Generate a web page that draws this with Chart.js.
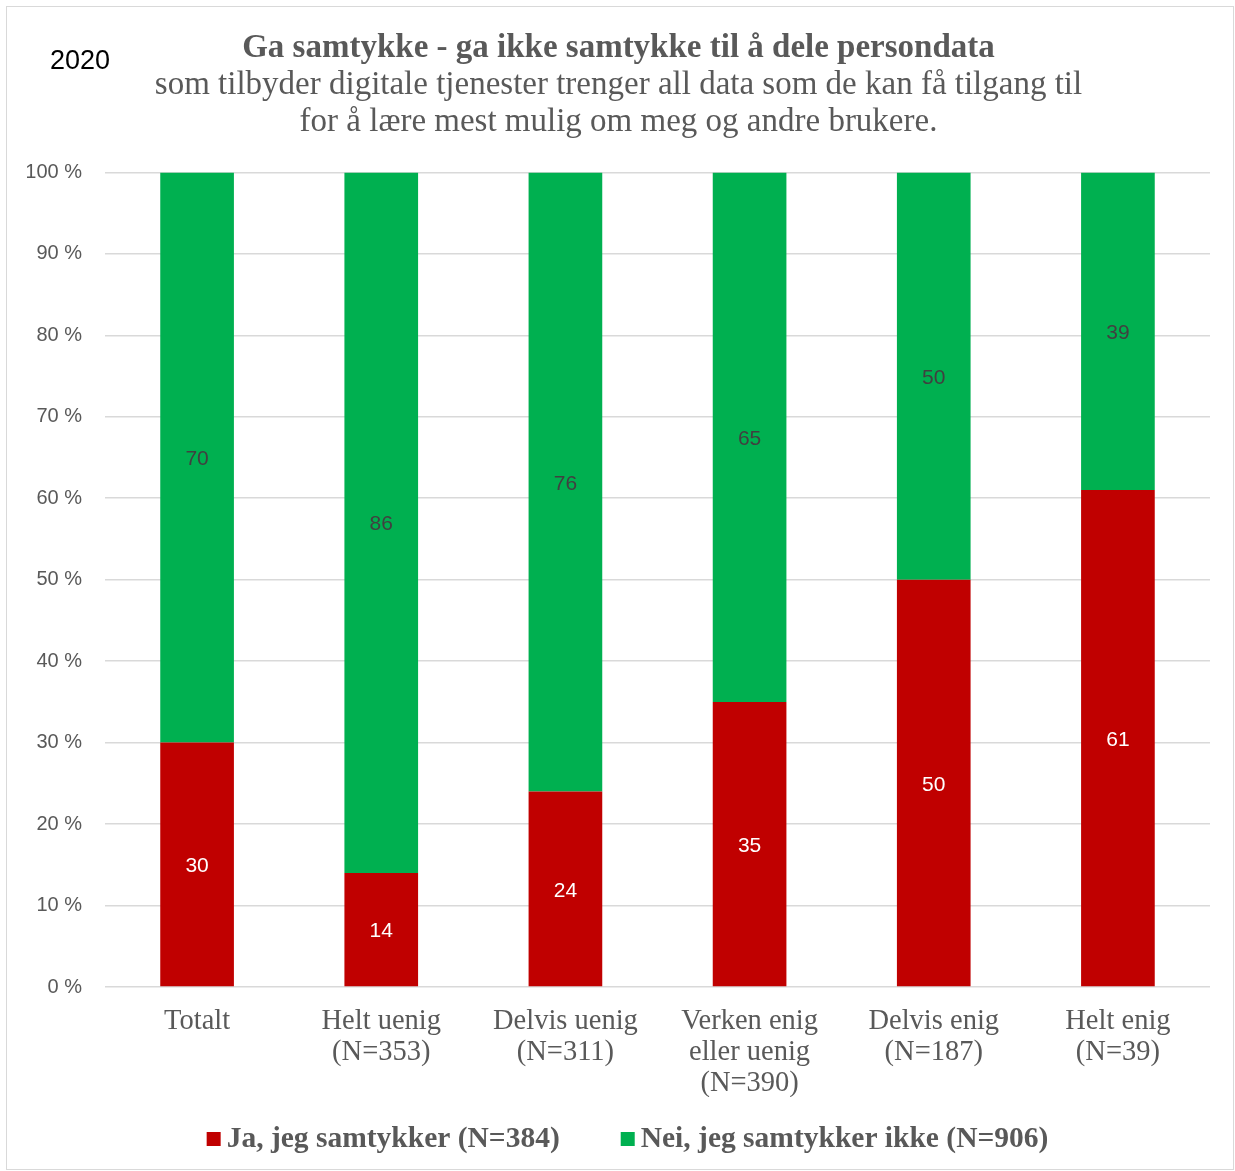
<!DOCTYPE html>
<html>
<head>
<meta charset="utf-8">
<script src="https://cdn.jsdelivr.net/npm/chart.js@4"></script>
<style>
  body { margin: 0; background: #fff; }
  #box { position: absolute; left: 6px; top: 6px; width: 1226px; height: 1162px; border: 1px solid #d9d9d9; }
</style>
</head>
<body>
<div id="box"><canvas id="chart" width="1226" height="1162"></canvas></div>
<script>
const categories = [
    ["Totalt"],
    ["Helt uenig", "(N=353)"],
    ["Delvis uenig", "(N=311)"],
    ["Verken enig", "eller uenig", "(N=390)"],
    ["Delvis enig", "(N=187)"],
    ["Helt enig", "(N=39)"],
];
const jaValues = [30, 14, 24, 35, 50, 61];
const neiValues = [70, 86, 76, 65, 50, 39];
const yTicks = [0, 10, 20, 30, 40, 50, 60, 70, 80, 90, 100];
const seriesNames = ["Ja, jeg samtykker (N=384)", "Nei, jeg samtykker ikke (N=906)"];
const yearLabel = "2020";

const labelColors = ["#ffffff", "#404040"];

// value in the middle of every bar segment, the year in the corner, and the legend row
const extras = {
    id: "extras",
    afterDatasetsDraw(chart) {
        const ctx = chart.ctx;
        ctx.save();
        ctx.font = "21px 'Liberation Sans'";
        ctx.textAlign = "center";
        ctx.textBaseline = "middle";
        chart.data.datasets.forEach((ds, i) => {
            const meta = chart.getDatasetMeta(i);
            meta.data.forEach((bar, j) => {
                const p = bar.getProps(["x", "y", "base"], true);
                ctx.fillStyle = labelColors[i];
                ctx.fillText(ds.data[j], p.x, (p.y + p.base) / 2 + 2);
            });
        });
        ctx.fillStyle = "#000000";
        ctx.font = "27px 'Liberation Sans'";
        ctx.textAlign = "left";
        ctx.fillText(yearLabel, 43, 55);

        // legend
        const box = 14, gap = 6, spacing = 61;
        ctx.font = "bold 29.5px 'Liberation Serif'";
        const items = chart.data.datasets.map((ds) => ({
            text: ds.label,
            color: ds.backgroundColor,
            w: box + gap + ctx.measureText(ds.label).width,
        }));
        const total = items.reduce((s, it) => s + it.w, 0) + spacing * (items.length - 1);
        let x = 620.5 - total / 2;
        const y = 1132;
        items.forEach((it) => {
            ctx.fillStyle = it.color;
            ctx.fillRect(x, y - box / 2, box, box);
            ctx.fillStyle = "#595959";
            ctx.fillText(it.text, x + box + gap, y);
            x += it.w + spacing;
        });
        ctx.restore();
    },
};

const data = {
    labels: categories,
    datasets: [
        {
            label: seriesNames[0],
            data: jaValues,
            backgroundColor: "#c00000",
        },
        {
            label: seriesNames[1],
            data: neiValues,
            backgroundColor: "#00b050",
        },
    ],
};

const config = {
    type: "bar",
    data: data,
    plugins: [extras],
    options: {
        responsive: false,
        animation: false,
        datasets: {
            bar: {
                barPercentage: 0.4,
                categoryPercentage: 1,
            },
        },
        layout: {
            padding: { left: 20, right: 23, top: 0, bottom: 72 },
        },
        scales: {
            x: {
                stacked: true,
                grid: { display: false, drawTicks: false },
                border: { display: false },
                ticks: {
                    padding: 19,
                    maxRotation: 0,
                    autoSkip: false,
                    color: "#595959",
                    font: { family: "'Liberation Serif'", size: 28.5, lineHeight: 1.088 },
                },
                afterFit: (scale) => { scale.height = 110; },
            },
            y: {
                stacked: true,
                min: 0,
                max: 100,
                afterBuildTicks: (scale) => { scale.ticks = yTicks.map((v) => ({ value: v })); },
                grid: { color: "#d9d9d9", lineWidth: 1.5, drawTicks: false },
                border: { display: false },
                ticks: {
                    padding: 23,
                    color: "#595959",
                    font: { family: "'Liberation Sans'", size: 20 },
                    callback: (v) => v + " %",
                },
                afterFit: (scale) => { scale.width = 78; },
            },
        },
        plugins: {
            title: {
                display: true,
                text: "Ga samtykke - ga ikke samtykke til å dele persondata",
                color: "#595959",
                font: { family: "'Liberation Serif'", size: 33, weight: "bold", lineHeight: 1.12 },
                padding: { top: 22.5, bottom: 0 },
            },
            subtitle: {
                display: true,
                text: [
                    "som tilbyder digitale tjenester trenger all data som de kan få tilgang til",
                    "for å lære mest mulig om meg og andre brukere.",
                ],
                color: "#595959",
                font: { family: "'Liberation Serif'", size: 33, lineHeight: 1.12 },
                padding: { top: 0, bottom: 32 },
            },
            legend: { display: false },
            tooltip: { enabled: false },
        },
    },
};

const barChart = new Chart(document.getElementById("chart"), config);
</script>
</body>
</html>
